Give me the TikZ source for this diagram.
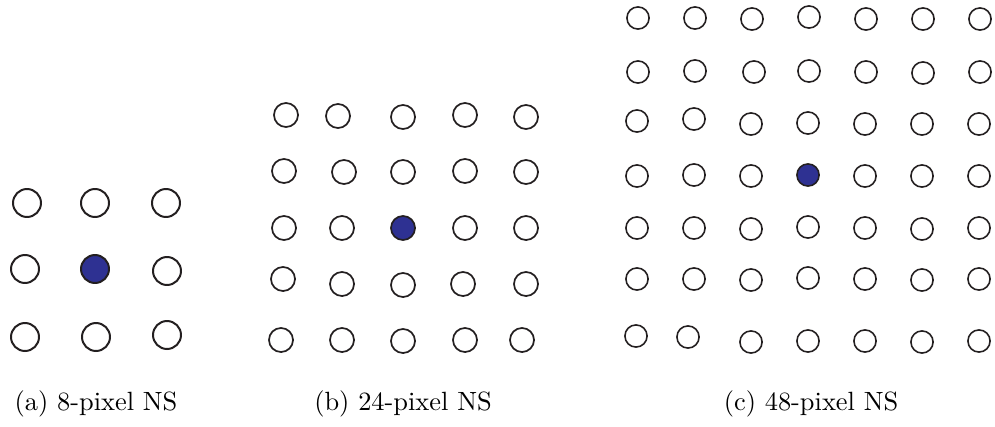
\documentclass[tikz,border=0pt]{standalone}
\usepackage{tikz}
\definecolor{dotline}{RGB}{35,31,32}
\definecolor{dotfill}{RGB}{46,49,146}
\begin{document}
\begin{tikzpicture}[x=0.3789pt,y=-0.3789pt,
  dota/.style={circle,draw=dotline,line width=0.76pt,minimum size=10.6pt,inner sep=0pt},
  dotb/.style={circle,draw=dotline,line width=0.66pt,minimum size=9.1pt,inner sep=0pt},
  dotc/.style={circle,draw=dotline,line width=0.6pt,minimum size=8.4pt,inner sep=0pt},
  centre/.style={fill=dotfill},
  subcap/.style={anchor=base,inner sep=0pt,font=\normalsize}]
\useasboundingbox (0,0) rectangle (995,426);
% panel (a)
\foreach \px/\py/\nm in {27/203/a11,95/203/a12,166/203/a13,
  25/269/a21,167/271/a23,
  25/337/a31,96/337/a32,167/335/a33}
  \node[dota] (\nm) at (\px,\py) {};
\node[dota,centre] (a22) at (95,269) {};
% panel (b)
\foreach \px/\py/\nm in {286/115/b11,338/116/b12,403/117/b13,465/115/b14,526/117/b15,
  284/171/b21,344/172/b22,403/172/b23,465/171/b24,526/172/b25,
  284/228/b31,342/228/b32,465/228/b34,526/228/b35,
  283/279/b41,342/284/b42,403/285/b43,463/284/b44,526/284/b45,
  281/340/b51,342/340/b52,403/341/b53,465/340/b54,522/340/b55}
  \node[dotb] (\nm) at (\px,\py) {};
\node[dotb,centre] (b33) at (403,228) {};
% panel (c)
\foreach \px/\py/\nm in {638/18/c11,695/18/c12,752/19/c13,809/17/c14,866/19/c15,923/19/c16,980/19/c17,
  638/72/c21,695/71/c22,754/72/c23,809/71/c24,866/72/c25,923/73/c26,980/72/c27,
  637/121/c31,694/119/c32,751/124/c33,808/123/c34,865/124/c35,922/124/c36,979/124/c37,
  637/176/c41,694/175/c42,751/176/c43,865/176/c45,922/176/c46,979/176/c47,
  637/228/c51,694/228/c52,751/229/c53,808/227/c54,865/228/c55,922/229/c56,979/228/c57,
  637/279/c61,694/279/c62,751/280/c63,808/278/c64,865/279/c65,922/280/c66,979/279/c67,
  636/336/c71,688/337/c72,751/342/c73,808/341/c74,865/341/c75,922/342/c76,979/341/c77}
  \node[dotc] (\nm) at (\px,\py) {};
\node[dotc,centre] (c44) at (808,175) {};
% captions
\node[subcap] (capa) at (96,410) {(a)\ 8-pixel NS};
\node[subcap] (capb) at (403,410) {(b)\ 24-pixel NS};
\node[subcap] (capc) at (811,410) {(c)\ 48-pixel NS};
\end{tikzpicture}
\end{document}
